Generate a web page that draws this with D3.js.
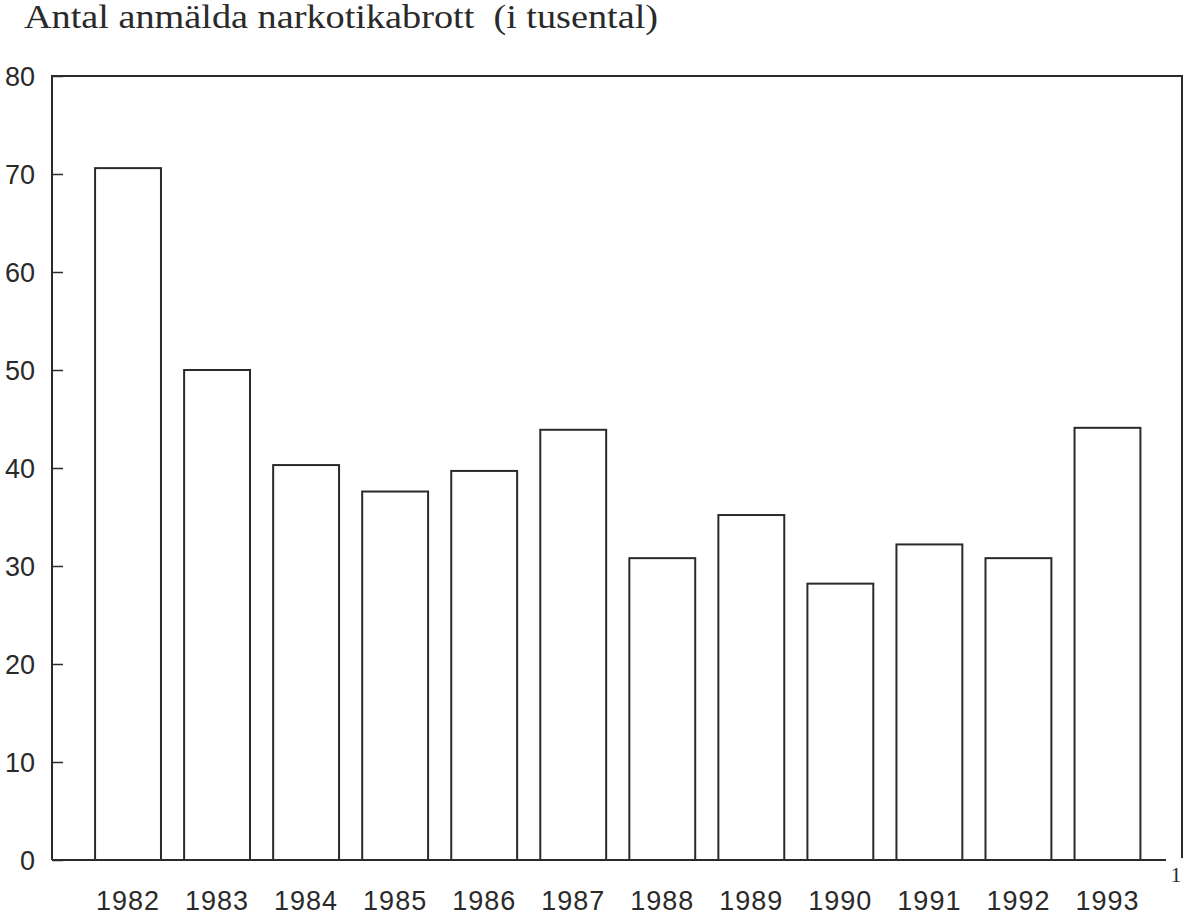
<!DOCTYPE html>
<html>
<head>
<meta charset="utf-8">
<script src="https://cdn.jsdelivr.net/npm/d3@7"></script>
<style>
  html, body { margin: 0; padding: 0; background: #fff; }
  svg { display: block; }
</style>
</head>
<body>
<svg id="chart" width="1185" height="916"></svg>
<script>
const years = ["1982","1983","1984","1985","1986","1987","1988","1989","1990","1991","1992","1993"];
const values = [70.6, 50.0, 40.3, 37.6, 39.7, 43.9, 30.8, 35.2, 28.2, 32.2, 30.8, 44.1];
const yTicks = [0, 10, 20, 30, 40, 50, 60, 70, 80];
const title = "Antal anmälda narkotikabrott  (i tusental)";
const footnote = "1";

(function () {
const svg = d3.select("#chart");
const ink = "#2a2a2a";
const pLeft = 52, pRight = 1182, pTop = 76, pBottom = 860;

const y = d3.scaleLinear().domain([0, 80]).range([pBottom, pTop]);
const x = d3.scaleBand().domain(years).range([83.5, 1152]).paddingInner(0.26).paddingOuter(0.13);

// title
svg.append("text")
  .attr("x", 24).attr("y", 28)
  .attr("font-family", "'Liberation Serif', 'Times New Roman', serif")
  .attr("font-size", 33)
  .attr("fill", ink)
  .attr("textLength", 634).attr("lengthAdjust", "spacingAndGlyphs")
  .style("white-space", "pre")
  .text(title);

// frame
svg.append("path")
  .attr("d", `M${pLeft},${pBottom} L${pLeft},${pTop} L${pRight},${pTop} L${pRight},${pBottom - 2}`)
  .attr("fill", "none").attr("stroke", ink).attr("stroke-width", 2);

// bars
svg.append("g").selectAll("rect").data(years).join("rect")
  .attr("x", d => x(d))
  .attr("y", (d, i) => y(values[i]))
  .attr("width", x.bandwidth())
  .attr("height", (d, i) => y(0) - y(values[i]))
  .attr("fill", "#fff").attr("stroke", ink).attr("stroke-width", 2);

// baseline
svg.append("line")
  .attr("x1", pLeft).attr("x2", 1166).attr("y1", pBottom).attr("y2", pBottom)
  .attr("stroke", ink).attr("stroke-width", 2);

// y axis ticks (inward) and labels
const yAxis = d3.axisRight(y).tickValues(yTicks).tickSize(11).tickFormat("");
const gy = svg.append("g").attr("transform", `translate(${pLeft},0)`).call(yAxis);
gy.select(".domain").remove();
gy.selectAll("line").attr("stroke", ink).attr("stroke-width", 1.5);

svg.append("g").selectAll("text").data(yTicks).join("text")
  .attr("x", 35).attr("y", d => y(d))
  .attr("dy", "0.36em")
  .attr("text-anchor", "end")
  .attr("font-family", "'Liberation Sans', Arial, sans-serif")
  .attr("font-size", 27)
  .attr("fill", ink)
  .text(d => d);

// x labels
svg.append("g").selectAll("text").data(years).join("text")
  .attr("x", d => x(d) + x.bandwidth() / 2)
  .attr("y", 910)
  .attr("text-anchor", "middle")
  .attr("font-family", "'Liberation Sans', Arial, sans-serif")
  .attr("font-size", 27)
  .attr("letter-spacing", 1)
  .attr("fill", ink)
  .text(d => d);

// footnote marker
svg.append("text")
  .attr("x", 1176).attr("y", 882)
  .attr("text-anchor", "middle")
  .attr("font-family", "'Liberation Serif', 'Times New Roman', serif")
  .attr("font-size", 21)
  .attr("fill", ink)
  .text(footnote);
})();
</script>
</body>
</html>
